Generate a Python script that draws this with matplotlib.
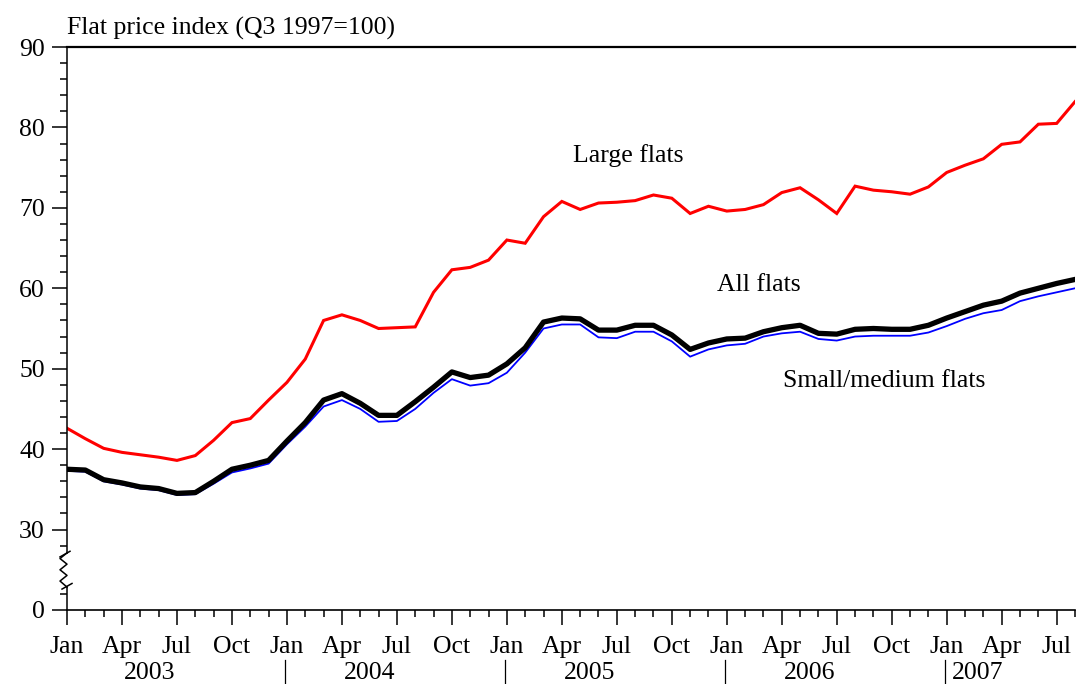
import numpy as np
import matplotlib
matplotlib.use('Agg')
import matplotlib.pyplot as plt
import matplotlib.transforms as mtransforms

plt.rcParams['font.family'] = ['Liberation Serif', 'DejaVu Serif']

# monthly index values, Jan 2003 - Aug 2007
large = [42.6, 41.3, 40.1, 39.6, 39.3, 39.0, 38.6, 39.2, 41.1, 43.3, 43.8, 46.1,
         48.3, 51.2, 56.0, 56.7, 56.0, 55.0, 55.1, 55.2, 59.5, 62.3, 62.6, 63.5,
         66.0, 65.6, 68.9, 70.8, 69.8, 70.6, 70.7, 70.9, 71.6, 71.2, 69.3, 70.2,
         69.6, 69.8, 70.4, 71.9, 72.5, 71.0, 69.3, 72.7, 72.2, 72.0, 71.7, 72.6,
         74.4, 75.3, 76.1, 77.9, 78.2, 80.4, 80.5, 83.2]
all_flats = [37.5, 37.4, 36.2, 35.8, 35.3, 35.1, 34.5, 34.6, 36.0, 37.5, 38.0, 38.6,
             41.0, 43.3, 46.1, 46.9, 45.7, 44.2, 44.2, 45.9, 47.7, 49.6, 48.9, 49.2,
             50.6, 52.6, 55.8, 56.3, 56.2, 54.8, 54.8, 55.4, 55.4, 54.2, 52.4, 53.2,
             53.7, 53.8, 54.6, 55.1, 55.4, 54.4, 54.3, 54.9, 55.0, 54.9, 54.9, 55.4,
             56.3, 57.1, 57.9, 58.4, 59.4, 60.0, 60.6, 61.1]
small = [37.3, 37.2, 36.0, 35.6, 35.1, 34.9, 34.3, 34.4, 35.7, 37.1, 37.6, 38.2,
         40.6, 42.8, 45.3, 46.1, 45.0, 43.4, 43.5, 45.0, 47.0, 48.7, 47.9, 48.2,
         49.5, 52.0, 55.0, 55.5, 55.5, 53.9, 53.8, 54.6, 54.6, 53.4, 51.5, 52.4,
         52.9, 53.1, 54.0, 54.4, 54.6, 53.7, 53.5, 54.0, 54.1, 54.1, 54.1, 54.5,
         55.3, 56.2, 56.9, 57.3, 58.4, 59.0, 59.5, 60.0]

quarter_labels = ['Jan', 'Apr', 'Jul', 'Oct']
years = ['2003', '2004', '2005', '2006', '2007']
year_pos = [4.5, 16.5, 28.5, 40.5, 49.7]

ytick_vals = [20, 30, 40, 50, 60, 70, 80, 90]  # 20 stands for 0 (broken axis)
ytick_labels = ['0', '30', '40', '50', '60', '70', '80', '90']

x = np.arange(len(large))

fig = plt.figure(figsize=(10.77, 6.84), dpi=100)
ax = fig.add_axes([67/1077, 1 - 610/684, 1008/1077, 563/684])

ax.plot(x, large, color='#ff0000', lw=2.2, solid_joinstyle='miter')
ax.plot(x, small, color='#0000ff', lw=1.3)
ax.plot(x, all_flats, color='black', lw=3.8)

ax.set_xlim(0, 55)
ax.set_ylim(20, 90)

fs = 18.5
# x ticks
ax.set_xticks(np.arange(0, 56, 3))
ax.set_xticklabels([quarter_labels[(i // 3) % 4] for i in range(0, 56, 3)], fontsize=fs)
ax.set_xticks(np.arange(0, 56, 1), minor=True)
ax.tick_params(axis='x', which='major', direction='out', length=11, width=1.1, pad=8)
ax.tick_params(axis='x', which='minor', direction='out', length=5, width=1.1)

# y ticks
ax.set_yticks(ytick_vals)
ax.set_yticklabels(ytick_labels, fontsize=fs)
ax.set_yticks([22, 28] + list(range(32, 90, 2)), minor=True)
ax.tick_params(axis='y', which='major', direction='out', length=11, width=1.1, pad=5)
ax.tick_params(axis='y', which='minor', direction='out', length=5, width=1.1)

ax.spines['right'].set_visible(False)
ax.spines['left'].set_visible(False)
ax.spines['top'].set_linewidth(1.6)
ax.spines['bottom'].set_linewidth(1.2)

# left axis with break
tb = mtransforms.blended_transform_factory(ax.transAxes, ax.transData)
px = 1 / 1008
ax.plot([0, 0], [27.1, 90], color='black', lw=1.1, transform=tb, clip_on=False)
ax.plot([0, 0], [20, 22.85], color='black', lw=1.1, transform=tb, clip_on=False)
zz_x = [0, -7*px, 0, -7*px, 0, -7*px, 0]
zz_y = [27.1, 26.4, 25.7, 25.0, 24.3, 23.6, 22.85]
ax.plot(zz_x, zz_y, color='black', lw=1.1, transform=tb, clip_on=False)
ax.plot([-7*px, 3*px], [26.6, 27.3], color='black', lw=1.1, transform=tb, clip_on=False)
ax.plot([-5*px, 5*px], [22.6, 23.3], color='black', lw=1.1, transform=tb, clip_on=False)

# year row
tx = mtransforms.blended_transform_factory(ax.transData, ax.transAxes)
for yr, p in zip(years, year_pos):
    ax.text(p, -0.092, yr, fontsize=fs, ha='center', va='top', transform=tx)
for sep in [12, 24, 36, 48]:
    ax.plot([sep - 0.1, sep - 0.1], [-0.089, -0.132], color='black', lw=0.9,
            transform=tx, clip_on=False)

# labels
ax.text(30.6, 76.5, 'Large flats', fontsize=fs, ha='center', va='center')
ax.text(37.75, 60.4, 'All flats', fontsize=fs, ha='center', va='center')
ax.text(44.6, 48.5, 'Small/medium flats', fontsize=fs, ha='center', va='center')

ax.annotate('Flat price index (Q3 1997=100)', xy=(0, 1), xycoords='axes fraction',
            xytext=(0, 5), textcoords='offset points', fontsize=fs, ha='left', va='bottom')

fig.savefig('out.png', dpi=100)
